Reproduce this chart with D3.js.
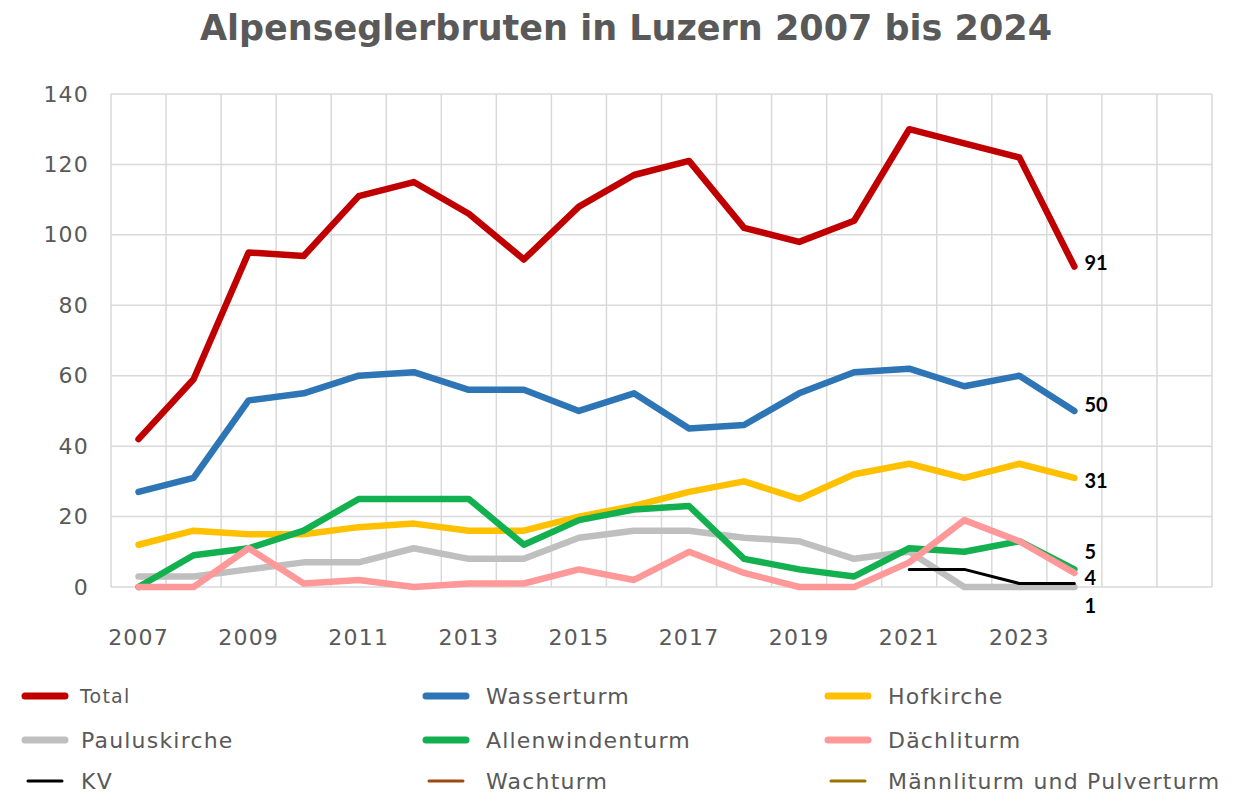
<!DOCTYPE html>
<html>
<head>
<meta charset="utf-8">
<script src="https://cdn.jsdelivr.net/npm/d3@7"></script>
<style>
  html, body { margin: 0; padding: 0; background: #fff; }
  svg { display: block; }
</style>
</head>
<body>
<svg id="chart" width="1240" height="808"></svg>
<script>
// ---- data ----
const categories = [2007,2008,2009,2010,2011,2012,2013,2014,2015,2016,2017,2018,2019,2020,2021,2022,2023,2024,2025,2026];
const years = [2007,2008,2009,2010,2011,2012,2013,2014,2015,2016,2017,2018,2019,2020,2021,2022,2023,2024];
const xTickLabels = ["2007","2009","2011","2013","2015","2017","2019","2021","2023"];
const yTicks = [0,20,40,60,80,100,120,140];

const total           = [42,59,95,94,111,115,106,93,108,117,121,102,98,104,130,126,122,91];
const wasserturm      = [27,31,53,55,60,61,56,56,50,55,45,46,55,61,62,57,60,50];
const hofkirche       = [12,16,15,15,17,18,16,16,20,23,27,30,25,32,35,31,35,31];
const pauluskirche    = [3,3,5,7,7,11,8,8,14,16,16,14,13,8,10,0,0,0];
const allenwindenturm = [0,9,11,16,25,25,25,12,19,22,23,8,5,3,11,10,13,5];
const daechliturm     = [0,0,11,1,2,0,1,1,5,2,10,4,0,0,7,19,13,4];
const kv              = [null,null,null,null,null,null,null,null,null,null,null,null,null,null,5,5,1,1];
const wachturm        = [];
const maennliturm     = [];

const seriesNames = ["Total","Wasserturm","Hofkirche","Pauluskirche","Allenwindenturm","Dächliturm","KV","Wachturm","Männliturm und Pulverturm"];
const seriesValues = [total, wasserturm, hofkirche, pauluskirche, allenwindenturm, daechliturm, kv, wachturm, maennliturm];
const endLabels = ["91","50","31",null,"5","4","1",null,null];

// ---- styles ----
const colors = ["#C00000","#2E75B6","#FFC000","#BFBFBF","#12B04F","#FF9999","#000000","#9E480E","#997300"];
const widths = [6.5,6.5,6.5,6.5,6.5,6.5,3,3,3];
const labelDy = [-4,-6,3,0,-17,5,23,0,0];

const svg = d3.select("#chart");
const plot = {left: 111, right: 1212, top: 94, bottom: 587};

const x = d3.scaleBand().domain(categories).range([plot.left, plot.right]).padding(0);
const y = d3.scaleLinear().domain([0,140]).range([plot.bottom, plot.top]);
const cx = d => x(d) + x.bandwidth()/2;

const FONT = "DejaVu Sans, Verdana, sans-serif";

// title
svg.append("text")
  .attr("x", 626).attr("y", 40)
  .attr("text-anchor","middle")
  .attr("font-family", FONT)
  .attr("font-weight","bold")
  .attr("font-size", 35)
  .attr("fill","#595959")
  .text("Alpenseglerbruten in Luzern 2007 bis 2024");

// grid
const grid = svg.append("g");
grid.selectAll("line.h").data(yTicks).join("line")
  .attr("x1", plot.left).attr("x2", plot.right)
  .attr("y1", d => y(d)).attr("y2", d => y(d))
  .attr("stroke","#D9D9D9").attr("stroke-width",1.5);
const bounds = categories.map(c => x(c)).concat([plot.right]);
grid.selectAll("line.v").data(bounds).join("line")
  .attr("x1", d => d).attr("x2", d => d)
  .attr("y1", plot.top).attr("y2", plot.bottom)
  .attr("stroke","#D9D9D9").attr("stroke-width",1.5);

// axes (labels only)
const yAxis = d3.axisLeft(y).tickValues(yTicks).tickSize(0).tickPadding(0);
const gy = svg.append("g").attr("transform", `translate(${plot.left - 22},0)`).call(yAxis);
gy.select(".domain").remove();
gy.selectAll("text")
  .attr("font-family", FONT)
  .attr("font-size", 22).attr("letter-spacing", 1.2).attr("fill","#595959");

const xAxis = d3.axisBottom(x).tickValues(xTickLabels.map(Number)).tickSize(0).tickPadding(0);
const gx = svg.append("g").attr("transform", `translate(0,${plot.bottom + 42})`).call(xAxis);
gx.select(".domain").remove();
gx.selectAll("text")
  .attr("font-family", FONT)
  .attr("font-size", 22).attr("letter-spacing", 1.2).attr("fill","#595959");

// lines
const line = d3.line()
  .defined(d => d.v != null)
  .x(d => cx(d.year))
  .y(d => y(d.v));

const linesG = svg.append("g");
seriesValues.forEach((vals, i) => {
  const pts = years.map((yr, k) => ({year: yr, v: vals[k] === undefined ? null : vals[k]}));
  linesG.append("path")
    .datum(pts)
    .attr("d", line)
    .attr("fill","none")
    .attr("stroke", colors[i])
    .attr("stroke-width", widths[i])
    .attr("stroke-linecap","round")
    .attr("stroke-linejoin","round");
});

// end labels
seriesValues.forEach((vals, i) => {
  if (!endLabels[i]) return;
  const last = vals[vals.length - 1];
  svg.append("text")
    .attr("x", cx(years[years.length-1]) + 10)
    .attr("y", y(last) + labelDy[i])
    .attr("dy","0.35em")
    .attr("font-family","Lato, Open Sans, sans-serif")
    .attr("font-weight","bold")
    .attr("font-size", 20)
    .attr("fill","#000")
    .text(endLabels[i]);
});

// legend
const legCols = [25, 426, 828];
const legTextX = [81, 486, 888];
const legRows = [696, 740, 781];
const legG = svg.append("g");
seriesNames.forEach((name, i) => {
  const col = i % 3, row = Math.floor(i / 3);
  const thick = widths[i] > 4;
  legG.append("line")
    .attr("x1", legCols[col] + (thick ? 0 : 3)).attr("x2", legCols[col] + (thick ? 40 : 37))
    .attr("y1", legRows[row]).attr("y2", legRows[row])
    .attr("stroke", colors[i])
    .attr("stroke-width", thick ? 7 : 3)
    .attr("stroke-linecap","round");
  legG.append("text")
    .attr("x", legTextX[col] - (i === 0 ? 1 : 0))
    .attr("y", legRows[row])
    .attr("dy","0.35em")
    .attr("font-family", FONT)
    .attr("font-size", i === 0 ? 19 : 22)
    .attr("letter-spacing", 1.2)
    .attr("fill","#595959")
    .text(name);
});
</script>
</body>
</html>
